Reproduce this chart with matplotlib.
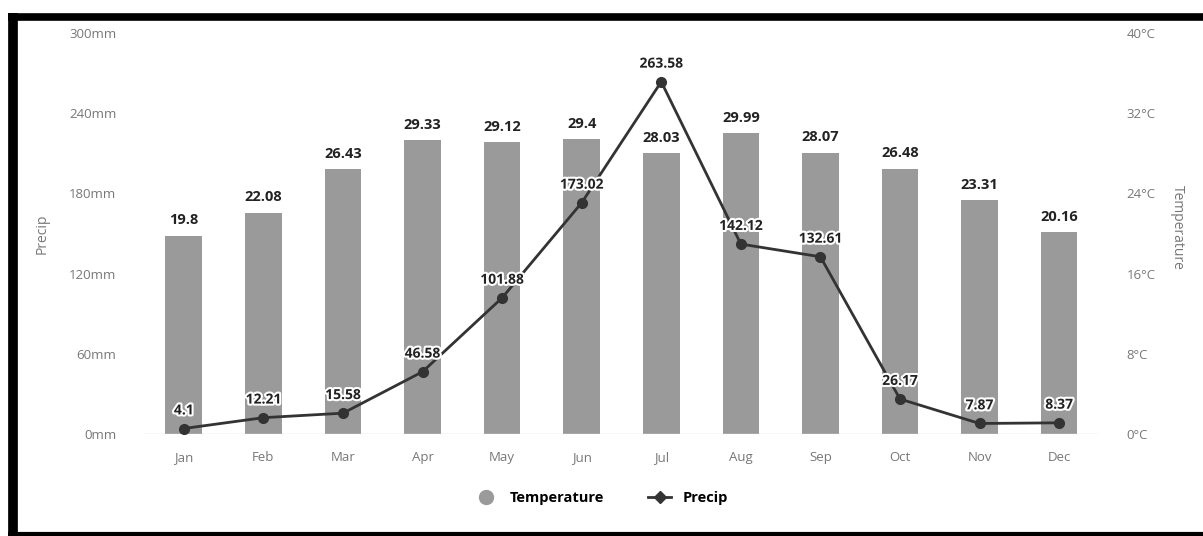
import matplotlib.pyplot as plt
import matplotlib.patheffects as pe
from matplotlib.lines import Line2D

# =========================
# Data
# =========================
months = ["Jan", "Feb", "Mar", "Apr", "May", "Jun",
          "Jul", "Aug", "Sep", "Oct", "Nov", "Dec"]
temperature = [19.8, 22.08, 26.43, 29.33, 29.12, 29.4,
               28.03, 29.99, 28.07, 26.48, 23.31, 20.16]
precip = [4.1, 12.21, 15.58, 46.58, 101.88, 173.02,
          263.58, 142.12, 132.61, 26.17, 7.87, 8.37]

precip_ticks = [0, 60, 120, 180, 240, 300]
temp_ticks = [0, 8, 16, 24, 32, 40]

plt.rcParams['font.family'] = ['Open Sans', 'DejaVu Sans']

bar_color = "#9a9a9a"
line_color = "#333333"
tick_color = "#777777"

fig = plt.figure(figsize=(12.03, 5.36), dpi=100)
ax = fig.add_axes([0.1197, 0.1903, 0.7938, 0.748])
ax2 = ax.twinx()

x = list(range(len(months)))

# =========================
# Bars: temperature (right axis)
# =========================
ax2.bar(x, temperature, width=0.46, color=bar_color, zorder=1)
for xi, v in zip(x, temperature):
    ax2.annotate(f"{v:g}", (xi, v), xytext=(0, 6), textcoords="offset points",
                 ha="center", va="bottom", fontsize=10.5, fontweight="bold",
                 color="#222222")

# =========================
# Line: precip (left axis, drawn on top)
# =========================
ax.set_zorder(ax2.get_zorder() + 1)
ax.patch.set_visible(False)
ax.plot(x, precip, color=line_color, lw=2, marker="o", ms=7, zorder=3)
for xi, v in zip(x, precip):
    ax.annotate(f"{v:g}", (xi, v), xytext=(0, 8), textcoords="offset points",
                ha="center", va="bottom", fontsize=10, fontweight="bold",
                color="#222222",
                path_effects=[pe.withStroke(linewidth=3, foreground="white")])

# =========================
# Axes
# =========================
ax.set_xlim(-0.5, 11.5)
ax.set_ylim(0, 300)
ax2.set_ylim(0, 40)
ax.set_xticks(x)
ax.set_xticklabels(months)
ax.set_yticks(precip_ticks)
ax.set_yticklabels([f"{v}mm" for v in precip_ticks])
ax2.set_yticks(temp_ticks)
ax2.set_yticklabels([f"{v}°C" for v in temp_ticks])

for a in (ax, ax2):
    for s in a.spines.values():
        s.set_visible(False)
    a.tick_params(length=0, colors=tick_color, labelsize=9.5)
ax.tick_params(axis="x", pad=12)
ax.tick_params(axis="y", pad=20)
ax2.tick_params(axis="y", pad=20)
ax.axhline(0, color="#dddddd", lw=1, zorder=0)

ax.set_ylabel("Precip", color=tick_color, fontsize=10, va="center")
ax.yaxis.set_label_coords(-0.107, 0.5)
ax2.set_ylabel("Temperature", color=tick_color, fontsize=10, rotation=-90,
               va="center")
ax2.yaxis.set_label_coords(1.0817, 0.514)

# =========================
# Legend
# =========================
handles = [
    Line2D([], [], ls="none", marker="o", ms=10, color=bar_color),
    Line2D([], [], color=line_color, lw=2, marker="D", ms=6),
]
fig.legend(handles, ["Temperature", "Precip"], loc="center",
           bbox_to_anchor=(0.5, 0.071), ncol=2, frameon=False,
           prop={"weight": "bold", "size": 10.5}, columnspacing=3,
           handlelength=1.6)

# =========================
# Frame around the image (left, top, bottom)
# =========================
fig.add_artist(Line2D([0.0106, 0.0106], [0, 0.976], color="black", lw=7,
                      solid_capstyle="butt", transform=fig.transFigure))
fig.add_artist(Line2D([0.0066, 1.0], [0.969, 0.969], color="black", lw=5.5,
                      solid_capstyle="butt", transform=fig.transFigure))
fig.add_artist(Line2D([0.0066, 1.0], [0.003, 0.003], color="black", lw=3,
                      solid_capstyle="butt", transform=fig.transFigure))

fig.savefig("out.png", dpi=100)
